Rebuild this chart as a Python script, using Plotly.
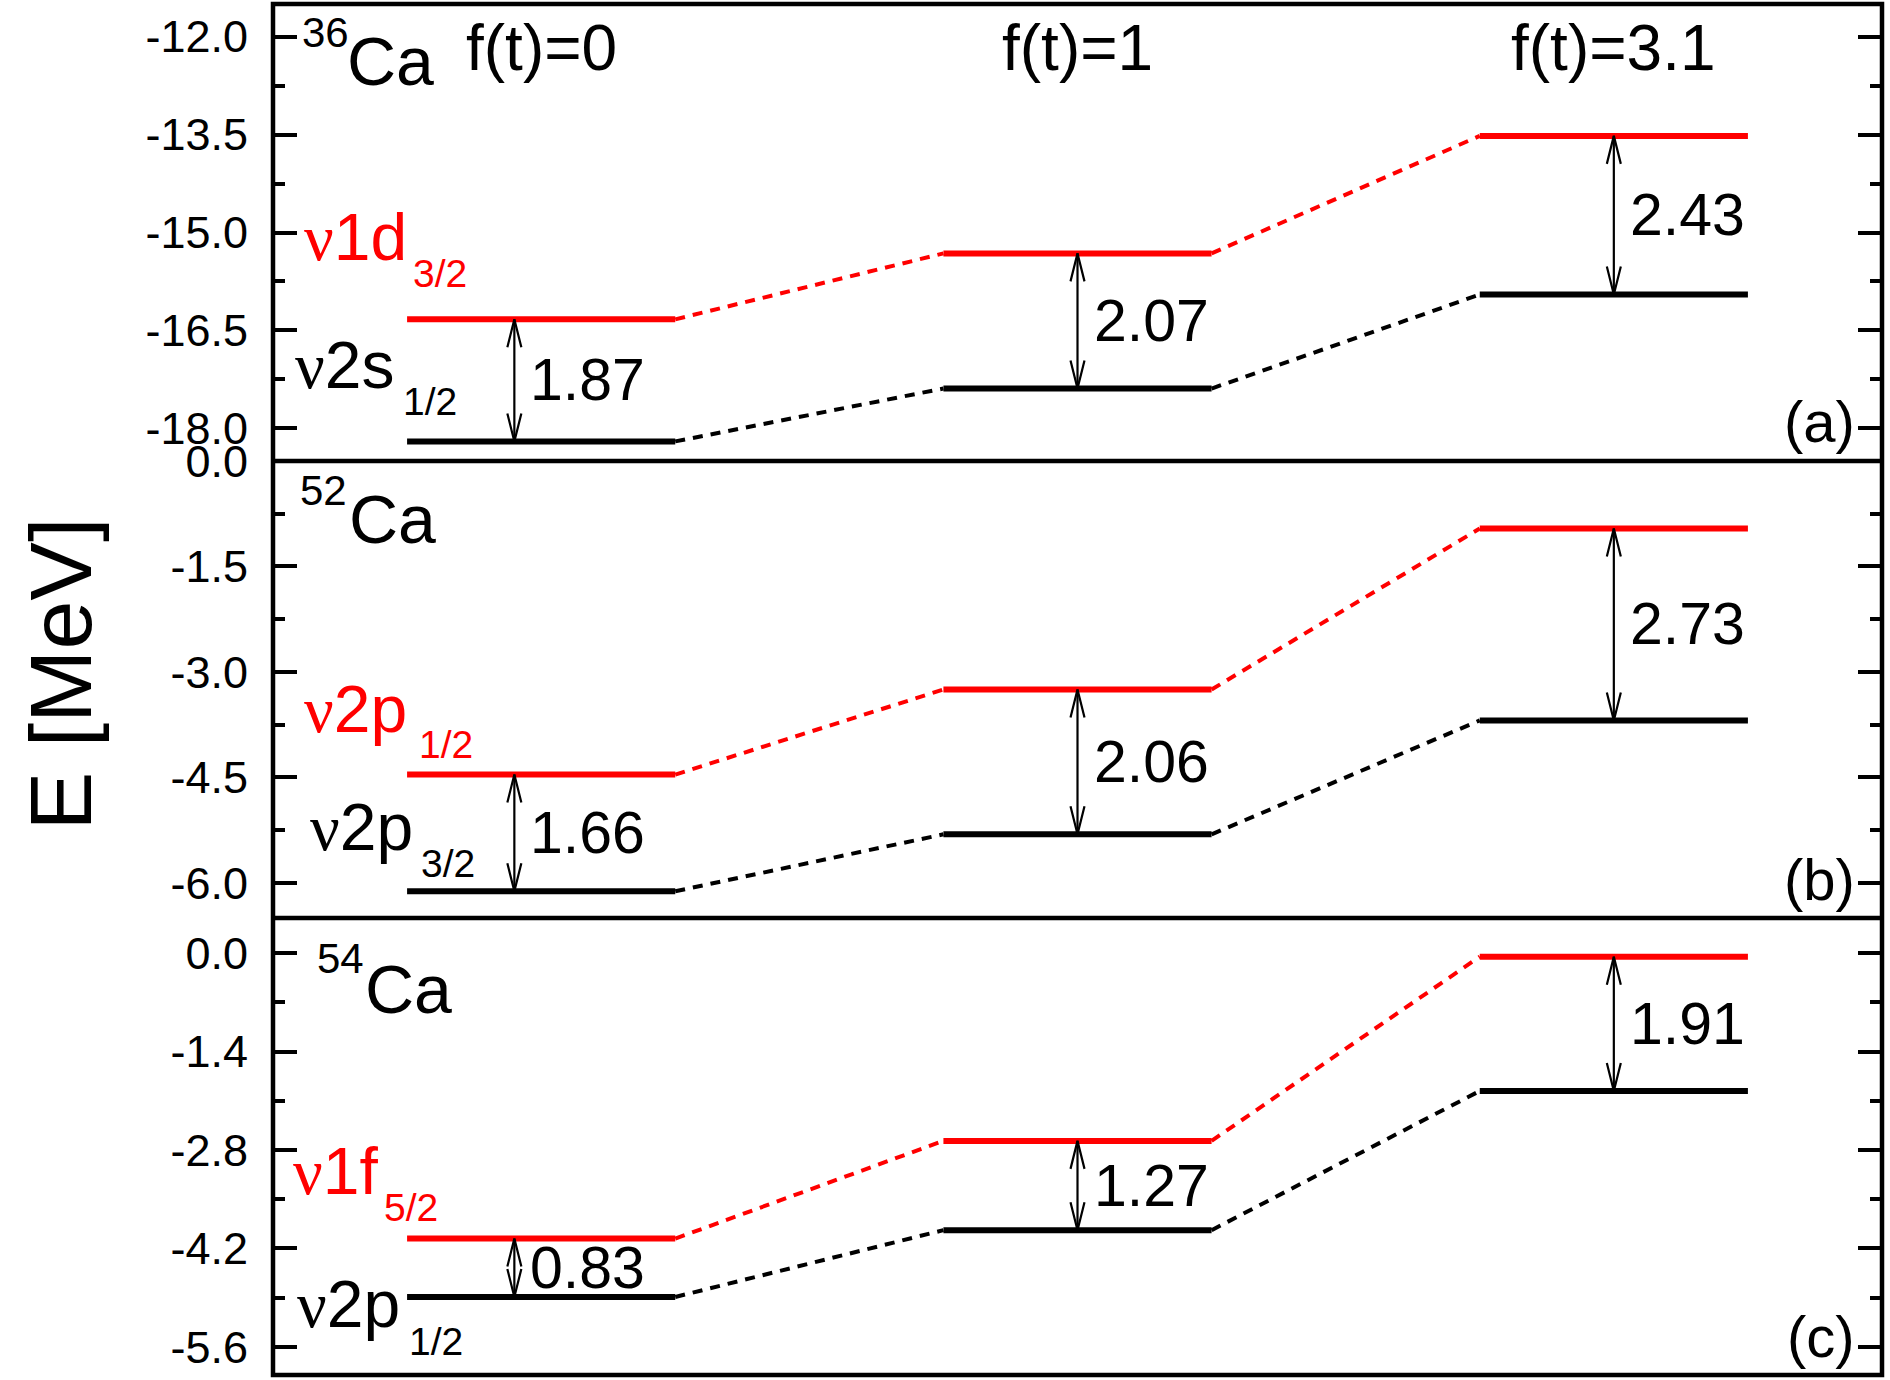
import plotly.graph_objects as go

# ---------------- data ----------------
f_labels = ["f(t)=0", "f(t)=1", "f(t)=3.1"]
isotopes = ["36", "52", "54"]
panel_tags = ["(a)", "(b)", "(c)"]

upper_names = ["1d", "2p", "1f"]
upper_subs = ["3/2", "1/2", "5/2"]
lower_names = ["2s", "2p", "2p"]
lower_subs = ["1/2", "3/2", "1/2"]

upper_a = [-16.33, -15.32, -13.52]
lower_a = [-18.20, -17.39, -15.95]
gaps_a = ["1.87", "2.07", "2.43"]

upper_b = [-4.46, -3.25, -0.96]
lower_b = [-6.12, -5.31, -3.69]
gaps_b = ["1.66", "2.06", "2.73"]

upper_c = [-4.06, -2.67, -0.05]
lower_c = [-4.89, -3.94, -1.96]
gaps_c = ["0.83", "1.27", "1.91"]

ticks_a = [-12.0, -13.5, -15.0, -16.5, -18.0]
ticks_b = [0.0, -1.5, -3.0, -4.5, -6.0]
ticks_c = [0.0, -1.4, -2.8, -4.2, -5.6]
ticklabels_a = ["-12.0", "-13.5", "-15.0", "-16.5", "-18.0"]
ticklabels_b = ["0.0", "-1.5", "-3.0", "-4.5", "-6.0"]
ticklabels_c = ["0.0", "-1.4", "-2.8", "-4.2", "-5.6"]

# ---------------- style / layout ----------------
FW, FH = 1890, 1380
L, T, R, B = 273, 4, 8, 5
W = FW - L - R
H = FH - T - B
FONT = "Liberation Sans"
SERIF = "Liberation Serif"
RED = "#FF0000"
BLACK = "#000000"

panels = [
    dict(up=upper_a, lo=lower_a, gaps=gaps_a, rng=[-18.5, -11.5], tv=ticks_a, tt=ticklabels_a,
         mdt=0.75, sup=(302, 46.7), ca=(347, 85), rm=(304, 260), rs=(412.7, 287.3),
         bm=(295, 388.3), bs=(403, 415)),
    dict(up=upper_b, lo=lower_b, gaps=gaps_b, rng=[-6.5, 0.0], tv=ticks_b, tt=ticklabels_b,
         mdt=0.75, sup=(300, 505), ca=(349, 543), rm=(304, 731.7), rs=(419, 758),
         bm=(310, 850), bs=(421, 876.6)),
    dict(up=upper_c, lo=lower_c, gaps=gaps_c, rng=[-6.0, 0.5], tv=ticks_c, tt=ticklabels_c,
         mdt=0.7, sup=(317, 973), ca=(365, 1013), rm=(293, 1194), rs=(384, 1221),
         bm=(297, 1326.5), bs=(409, 1354.7)),
]

XR = [0, 6]
half = 0.5
arrow_offsets = [-0.1, 0.0, 0.0]
HEAD_LEN_PX = 28
HEAD_HW_PX = 7
px_per_x = W / (XR[1] - XR[0])


def px2paper(xp, yp):
    return (xp - L) / W, 1 - (yp - T) / H


def txt(text, xpx, base, size, color, family=FONT, anchor="left"):
    ymid = base - 0.3465 * size
    xp, yp = px2paper(xpx, ymid)
    return dict(text=text, xref="paper", yref="paper", x=xp, y=yp, xanchor=anchor,
                yanchor="middle", showarrow=False, borderpad=0, borderwidth=0,
                font=dict(size=size, color=color, family=family))


fig = go.Figure()
annotations = []
shapes = []
nu = '<span style="font-family:%s">ν</span>' % SERIF

for p, P in enumerate(panels):
    xa = "x" if p == 0 else "x%d" % (p + 1)
    ya = "y" if p == 0 else "y%d" % (p + 1)
    n = len(P["up"])
    centers = [2 * i + 1 for i in range(n)]
    span = P["rng"][1] - P["rng"][0]
    px_per_y = (H / 3) / span
    hl = HEAD_LEN_PX / px_per_y
    hw = HEAD_HW_PX / px_per_x

    for vals, col in ((P["lo"], BLACK), (P["up"], RED)):
        # dashed connectors
        cx, cy = [], []
        for i in range(n - 1):
            cx += [centers[i] + half, centers[i + 1] - half, None]
            cy += [vals[i], vals[i + 1], None]
        fig.add_trace(go.Scatter(x=cx, y=cy, xaxis=xa, yaxis=ya, mode="lines",
                                 line=dict(color=col, width=4, dash="10px,8px"),
                                 hoverinfo="skip", showlegend=False))
        # levels
        lx, ly = [], []
        for i in range(n):
            lx += [centers[i] - half, centers[i] + half, None]
            ly += [vals[i], vals[i], None]
        fig.add_trace(go.Scatter(x=lx, y=ly, xaxis=xa, yaxis=ya, mode="lines",
                                 line=dict(color=col, width=6),
                                 hoverinfo="skip", showlegend=False))

    # double arrows
    ax_, ay_ = [], []
    for i in range(n):
        x0 = centers[i] + arrow_offsets[i]
        up, lo = P["up"][i], P["lo"][i]
        ax_ += [x0, x0, None]
        ay_ += [lo, up, None]
        ax_ += [x0 - hw, x0, x0 + hw, None]
        ay_ += [up - hl, up, up - hl, None]
        ax_ += [x0 - hw, x0, x0 + hw, None]
        ay_ += [lo + hl, lo, lo + hl, None]
        annotations.append(dict(text=P["gaps"][i], xref=xa, yref=ya, x=x0, y=(up + lo) / 2,
                                xanchor="left", yanchor="middle", xshift=16, showarrow=False,
                                borderpad=0, borderwidth=0,
                                font=dict(size=59, color=BLACK, family=FONT)))
    fig.add_trace(go.Scatter(x=ax_, y=ay_, xaxis=xa, yaxis=ya, mode="lines",
                             line=dict(color=BLACK, width=2.2),
                             hoverinfo="skip", showlegend=False))

    # isotope label
    annotations.append(txt(isotopes[p], P["sup"][0], P["sup"][1], 42, BLACK))
    annotations.append(txt("Ca", P["ca"][0], P["ca"][1], 68, BLACK))
    # state labels
    annotations.append(txt(nu + upper_names[p], P["rm"][0], P["rm"][1], 66, RED))
    annotations.append(txt(upper_subs[p], P["rs"][0], P["rs"][1], 39, RED))
    annotations.append(txt(nu + lower_names[p], P["bm"][0], P["bm"][1], 66, BLACK))
    annotations.append(txt(lower_subs[p], P["bs"][0], P["bs"][1], 39, BLACK))
    # panel tag
    annotations.append(dict(text=panel_tags[p], xref=xa + " domain", yref=ya + " domain",
                            x=1, y=0, xanchor="right", yanchor="middle", xshift=-27, yshift=39,
                            showarrow=False, borderpad=0, borderwidth=0,
                            font=dict(size=58, color=BLACK, family=FONT)))

    dom = [1 - (p + 1) / 3, 1 - p / 3]
    key = "" if p == 0 else str(p + 1)
    fig.layout["xaxis" + key] = dict(domain=[0, 1], range=XR, visible=False,
                                     anchor=ya, automargin=False)
    fig.layout["yaxis" + key] = dict(domain=dom, range=P["rng"], anchor=xa, automargin=False,
                                     tickmode="array", tickvals=P["tv"], ticktext=P["tt"],
                                     ticks="inside", ticklen=24, tickwidth=3.5, tickcolor=BLACK,
                                     mirror="ticks", showline=False, showgrid=False,
                                     zeroline=False, ticklabelstandoff=24,
                                     tickfont=dict(size=45, color=BLACK, family=FONT),
                                     minor=dict(tickmode="linear", tick0=0, dtick=P["mdt"],
                                                ticks="inside", ticklen=12, tickwidth=3.5,
                                                tickcolor=BLACK, showgrid=False))
    if p < 2:
        shapes.append(dict(type="line", xref="paper", yref=ya + " domain", x0=0, x1=1,
                           y0=0, y1=0, line=dict(color=BLACK, width=4.5)))

# f(t) labels on top panel
for i, lab in enumerate(f_labels):
    yb = 70 - 0.3465 * 64
    annotations.append(dict(text=lab, xref="x", yref="paper", x=2 * i + 1,
                            y=px2paper(0, yb)[1], xanchor="center", yanchor="middle",
                            showarrow=False, borderpad=0, borderwidth=0,
                            font=dict(size=64, color=BLACK, family=FONT)))

# y-axis title
xt, yt = px2paper(59.5, 674)
annotations.append(dict(text="E [MeV]", xref="paper", yref="paper", x=xt, y=yt,
                        xanchor="center", yanchor="middle", textangle=-90, showarrow=False,
                        font=dict(size=88, color=BLACK, family=FONT)))

shapes.append(dict(type="rect", xref="paper", yref="paper", x0=0, x1=1, y0=0, y1=1,
                   line=dict(color=BLACK, width=4.5)))

fig.update_layout(width=FW, height=FH, margin=dict(l=L, r=R, t=T, b=B, autoexpand=False),
                  paper_bgcolor="white", plot_bgcolor="white",
                  annotations=annotations, shapes=shapes, showlegend=False)

fig.write_html("out.html", config={"displayModeBar": False},
               post_script="document.body.style.margin='0';document.body.style.overflow='hidden';")
